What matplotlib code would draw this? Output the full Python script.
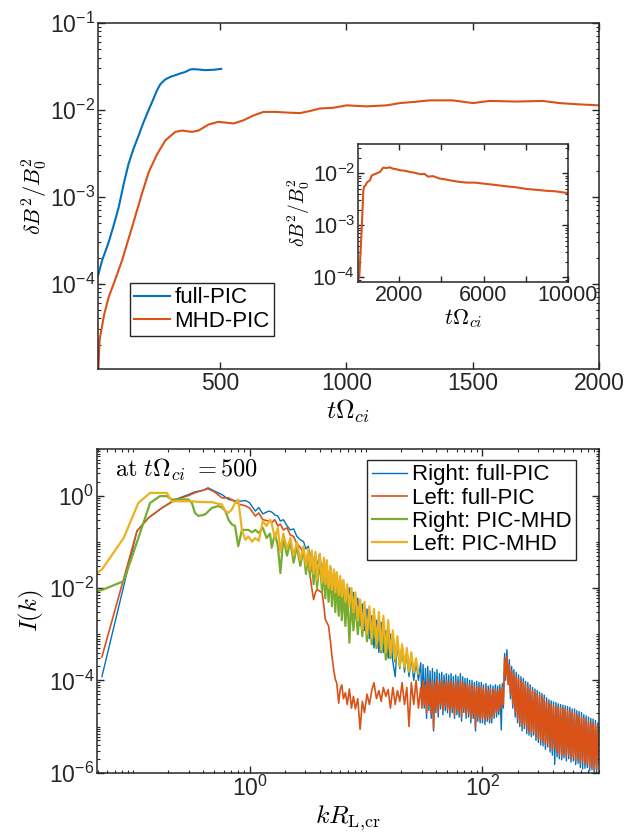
import numpy as np
import matplotlib.pyplot as plt
from matplotlib.ticker import FixedLocator, LogLocator, NullLocator, NullFormatter

plt.rcParams['font.family'] = ['Liberation Sans', 'DejaVu Sans']
plt.rcParams['mathtext.fontset'] = 'cm'

# MATLAB default colours
c_blue = '#0072BD'
c_orange = '#D95319'
c_yellow = '#EDB120'
c_green = '#77AC30'
c_axis = '#262626'

# ---- top panel: magnetic energy growth ----
t_full = [16, 32, 58, 78, 98, 118, 137, 157, 177, 197, 216, 236, 250, 263,
          282, 302, 322, 342, 362, 381, 394, 414, 441, 474, 504]
b_full = [1.24e-4, 1.85e-4, 3.0e-4, 4.7e-4, 7.6e-4, 1.42e-3, 2.4e-3, 3.6e-3,
          5.1e-3, 7.3e-3, 9.9e-3, 1.35e-2, 1.69e-2, 1.98e-2, 2.24e-2, 2.4e-2,
          2.51e-2, 2.63e-2, 2.74e-2, 2.92e-2, 2.95e-2, 2.92e-2, 2.87e-2,
          2.9e-2, 2.97e-2]

t_mhd = [16, 22, 26, 40, 58, 78, 111, 151, 190, 217, 250, 283, 322, 349, 388,
         414, 454, 493, 533, 553, 592, 630, 671, 720, 777, 816, 860, 895, 948,
         1001, 1080, 1159, 1212, 1270, 1330, 1421, 1501, 1567, 1673, 1778,
         1844, 1923, 2000]
b_mhd = [8e-6, 2.2e-5, 2.6e-5, 4.4e-5, 7.0e-5, 1.0e-4, 1.85e-4, 4.5e-4,
         1.09e-3, 1.93e-3, 3.1e-3, 4.47e-3, 5.6e-3, 5.8e-3, 5.6e-3, 5.8e-3,
         6.8e-3, 7.3e-3, 7.1e-3, 7.0e-3, 7.6e-3, 8.6e-3, 9.5e-3, 9.5e-3,
         9.3e-3, 9.2e-3, 9.8e-3, 1.04e-2, 1.06e-2, 1.13e-2, 1.1e-2, 1.13e-2,
         1.2e-2, 1.24e-2, 1.29e-2, 1.29e-2, 1.2e-2, 1.27e-2, 1.25e-2, 1.27e-2,
         1.2e-2, 1.16e-2, 1.13e-2]

# inset: long MHD-PIC run
t_long = [60, 108, 220, 300, 330, 400, 457, 520, 614, 694, 770, 900, 1087,
          1243, 1404, 1550, 1716, 1850, 2032, 2250, 2506, 2750, 2979, 3200,
          3370, 3600, 3925, 4200, 4500, 4871, 5200, 5600, 6020, 6500, 7080,
          7500, 8025, 8500, 8971, 9400, 9917, 10000]
b_long = [9e-5, 1.0e-4, 8e-4, 4.7e-3, 5.5e-3, 5.8e-3, 6.5e-3, 6.9e-3, 7.3e-3,
          9.0e-3, 9.4e-3, 9.8e-3, 1.06e-2, 1.28e-2, 1.26e-2, 1.3e-2, 1.22e-2,
          1.2e-2, 1.14e-2, 1.12e-2, 1.06e-2, 1.02e-2, 9.6e-3, 9.7e-3, 8.6e-3,
          8.8e-3, 7.9e-3, 7.6e-3, 7.2e-3, 6.8e-3, 6.6e-3, 6.6e-3, 6.3e-3,
          6.0e-3, 5.6e-3, 5.4e-3, 5.0e-3, 4.8e-3, 4.6e-3, 4.5e-3, 4.2e-3,
          4.2e-3]

# ---- bottom panel: spectra at t*Omega_ci = 500 ----
# low k, full-PIC grid
k_full_lo = [0.054, 0.108, 0.136, 0.177, 0.23, 0.30, 0.34, 0.40, 0.44, 0.50,
             0.58, 0.66, 0.74, 0.83, 0.92, 1.0, 1.12, 1.2, 1.3, 1.46]
right_full_lo = [1.2e-4, 0.17, 0.33, 0.54, 0.82, 1.05, 1.2, 1.3, 1.47, 1.25,
                 1.05, 0.82, 0.78, 0.75, 0.78, 0.7, 0.46, 0.55, 0.4, 0.46]
left_full_lo = [3.2e-4, 0.17, 0.33, 0.54, 0.8, 1.0, 1.15, 1.3, 1.4, 1.2,
                0.89, 0.89, 0.75, 0.64, 0.6, 0.54, 0.36, 0.42, 0.3, 0.28]

# low k, PIC-MHD grid
k_mhd_lo = [0.049, 0.054, 0.083, 0.111, 0.14, 0.17, 0.195, 0.215, 0.26, 0.30,
            0.32, 0.34, 0.365, 0.416, 0.475, 0.54, 0.58, 0.62, 0.66, 0.705,
            0.75, 0.80, 0.86, 0.92, 0.98, 1.05, 1.12, 1.2, 1.3, 1.4, 1.5]
right_mhd_lo = [0.0085, 0.009, 0.014, 0.12, 0.69, 0.97, 0.97, 0.82, 0.82, 0.82,
                0.69, 0.42, 0.36, 0.39, 0.54, 0.59, 0.55, 0.46, 0.30, 0.236,
                0.22, 0.08, 0.18, 0.18, 0.18, 0.16, 0.18, 0.155, 0.2, 0.12, 0.15]
left_mhd_lo = [0.021, 0.025, 0.12, 0.69, 1.14, 1.14, 1.14, 0.75, 0.75, 0.75,
               0.75, 0.74, 0.73, 0.72, 0.72, 0.66, 0.64, 0.46, 0.42, 0.5,
               0.69, 0.82, 0.18, 0.11, 0.13, 0.10, 0.12, 0.104, 0.28, 0.22, 0.3]

# intermediate k (noisy)
k_mid = [1.55, 1.65, 1.75, 1.84, 1.95, 2.1, 2.24, 2.39, 2.55, 2.73,
         2.91, 3.05, 3.2, 3.3, 3.42, 3.55, 3.68, 3.8, 4.0, 4.2,
         4.35, 4.47, 4.6, 4.77, 4.95, 5.1, 5.3, 5.45, 5.6, 5.83,
         6.0, 6.2, 6.4, 6.65, 6.9, 7.2, 7.5, 7.8, 8.1, 8.5,
         8.9, 9.3, 9.7, 10.2, 10.7, 11.2, 11.7, 12.3, 12.9, 13.5,
         14.1, 14.8, 15.5, 16.2, 17.0, 17.8, 18.6, 19.5, 20.4, 21.4,
         22.4, 23.4, 24.5, 25.7, 26.9, 28.2]
right_full_mid = [0.44, 0.38, 0.36, 0.28, 0.3, 0.22, 0.18, 0.19, 0.13, 0.11,
                  0.1, 0.07, 0.08, 0.05, 0.06, 0.035, 0.05, 0.03, 0.055, 0.02,
                  0.04, 0.015, 0.035, 0.012, 0.03, 0.0078, 0.025, 0.012, 0.02, 0.008,
                  0.017, 0.006, 0.014, 0.005, 0.004, 0.01, 0.0035, 0.008, 0.0025, 0.006,
                  0.0015, 0.0045, 0.0012, 0.0035, 8e-4, 0.0025, 5e-4, 0.002, 4e-4, 0.0018,
                  4e-4, 0.0012, 3e-4, 0.001, 2.5e-4, 1.2e-4, 7e-4, 1.8e-4, 6e-4, 1.5e-4,
                  4e-4, 1.2e-4, 3e-4, 1e-4, 2.5e-4, 1e-4]
left_full_mid = [0.26, 0.3, 0.22, 0.24, 0.18, 0.2, 0.14, 0.13, 0.09, 0.075,
                 0.057, 0.04, 0.029, 0.0195, 0.01, 0.0056, 0.008, 0.0093, 0.0085, 0.0078,
                 0.004, 0.0021, 0.0018, 0.0015, 7e-4, 3.3e-4, 1.6e-4, 1.05e-4, 8.9e-5, 3.2e-5,
                 6.3e-5, 8e-5, 4e-5, 5.4e-5, 3e-5, 6.5e-5, 2.5e-5, 4.5e-5, 2.4e-5, 4e-5,
                 8.7e-6, 3.5e-5, 2e-5, 5e-5, 3e-5, 6e-5, 8.9e-5, 4e-5, 6e-5, 3.5e-5,
                 7e-5, 4.5e-5, 6.3e-5, 2.5e-5, 7e-5, 3e-5, 6e-5, 3.5e-5, 8.9e-5, 3e-5,
                 7e-5, 1e-5, 8.9e-5, 3e-5, 1e-4, 2.5e-5]
right_mhd_mid = [0.074, 0.15, 0.08, 0.021, 0.12, 0.05, 0.1, 0.035, 0.08, 0.03,
                 0.07, 0.02, 0.06, 0.018, 0.05, 0.012, 0.045, 0.01, 0.04, 0.008,
                 0.035, 0.006, 0.03, 0.005, 0.025, 0.004, 0.02, 0.003, 0.015, 0.0025,
                 0.012, 0.002, 0.01, 0.0015, 0.008, 6.5e-4, 0.006, 0.0012, 0.005, 0.001,
                 0.004, 9e-4, 0.0035, 7e-4, 0.003, 6e-4, 0.0025, 5e-4, 0.002, 4e-4,
                 0.0015, 2.8e-4, 0.0012, 3e-4, 9e-4, 2.5e-4, 7e-4, 2e-4, 5e-4, 1.8e-4,
                 4e-4, 1.5e-4, 3e-4]
left_mhd_mid = [0.25, 0.12, 0.2, 0.06, 0.15, 0.07, 0.12, 0.05, 0.1, 0.04,
                0.08, 0.03, 0.07, 0.025, 0.065, 0.02, 0.06, 0.015, 0.055, 0.013,
                0.045, 0.012, 0.04, 0.01, 0.03, 0.009, 0.025, 0.008, 0.022, 0.007,
                0.018, 0.0065, 0.015, 0.005, 0.012, 0.004, 0.01, 0.003, 0.008, 0.002,
                0.0056, 0.0013, 0.005, 0.001, 0.004, 8e-4, 0.0035, 6e-4, 0.003, 4.6e-4,
                0.0025, 4e-4, 0.002, 3.5e-4, 0.0012, 3e-4, 9e-4, 2e-4, 6e-4, 2e-4,
                5e-4, 1.6e-4, 4e-4, 1.5e-4, 3e-4, 1.4e-4]

# high k (full-PIC only, very noisy)
k_hi = [29.5, 30.2, 30.9, 31.6, 32.4, 33.1, 33.9, 34.7, 35.5, 36.3,
        37.2, 38.0, 38.9, 39.8, 40.7, 41.7, 42.7, 43.7, 44.7, 45.7,
        46.8, 47.9, 49.0, 50.1, 51.3, 52.5, 53.7, 55.0, 56.2, 57.5,
        58.9, 60.3, 61.7, 63.1, 64.6, 66.1, 67.6, 69.2, 70.8, 72.4,
        74.1, 75.9, 77.6, 79.4, 81.3, 83.2, 85.1, 87.1, 89.1, 91.2,
        93.3, 95.5, 97.7, 100, 102, 105, 107, 110, 112, 115,
        117, 120, 123, 126, 129, 132, 135, 138, 141, 145,
        148, 151, 155, 158, 162, 166, 170, 174, 178, 182,
        186, 191, 195, 200, 204, 209, 214, 219, 224, 229,
        234, 240, 245, 251, 257, 263, 269, 275, 282, 288,
        295, 302, 309, 316, 324, 331, 339, 347, 355, 363,
        372, 380, 389, 398, 407, 417, 427, 437, 447, 457,
        468, 479, 490, 501, 513, 525, 537, 550, 562, 575,
        589, 603, 617, 631, 646, 661, 676, 692, 708, 724,
        741, 759, 776, 794, 813, 832, 851, 871, 891, 912,
        933, 955, 977, 1000]
right_full_hi = [2.4e-4, 3e-5, 2.2e-4, 2.5e-5, 1.8e-4, 1.5e-5, 2e-4, 2.2e-5, 1.6e-4, 1.5e-5,
                 1.8e-4, 8e-6, 1.5e-4, 2e-5, 1.7e-4, 1.6e-5, 1.4e-4, 2.4e-5, 1.5e-4, 1.8e-5,
                 1.3e-4, 2.2e-5, 1.4e-4, 2e-5, 1.3e-4, 1.6e-5, 1.4e-4, 2e-5, 1.2e-4, 1.5e-5,
                 1.3e-4, 1.8e-5, 1.2e-4, 1.6e-5, 1.4e-4, 1.3e-5, 1.2e-4, 2e-5, 1.1e-4, 1.5e-5,
                 1.1e-4, 1.6e-5, 1.0e-4, 1.2e-5, 1.0e-4, 1.5e-5, 9e-5, 8e-6, 9.5e-5, 1.3e-5,
                 9e-5, 1.2e-5, 9e-5, 1.2e-5, 8e-5, 1.1e-5, 8.5e-5, 1.3e-5, 7.5e-5, 1.2e-5,
                 8e-5, 1.2e-5, 7.5e-5, 1.5e-5, 8e-5, 1.6e-5, 7.5e-5, 1.8e-5, 8e-5, 8.4e-6,
                 8.5e-5, 2.5e-5, 3.8e-4, 1.0e-4, 4.6e-4, 9e-5, 2.8e-4, 4e-5, 2e-4, 2.5e-5,
                 1.7e-4, 1.6e-5, 1.5e-4, 1.2e-5, 1.3e-4, 1e-5, 1.2e-4, 8e-6, 1.1e-4, 9e-6,
                 9.5e-5, 7e-6, 9e-5, 6.5e-6, 8e-5, 6e-6, 7e-5, 6.5e-6, 6.5e-5, 5e-6,
                 6e-5, 4.5e-6, 5.5e-5, 4e-6, 5.2e-5, 3.8e-6, 4.8e-5, 3.2e-6, 4.2e-5, 3.6e-6,
                 3.8e-5, 2.8e-6, 3.6e-5, 2.4e-6, 3.4e-5, 1.5e-6, 3.3e-5, 2.2e-6, 3.1e-5, 2e-6,
                 3e-5, 1.9e-6, 2.9e-5, 2.1e-6, 2.8e-5, 1.8e-6, 2.7e-5, 2e-6, 2.6e-5, 1.7e-6,
                 2.4e-5, 1.8e-6, 2.4e-5, 1.5e-6, 2.2e-5, 1.6e-6, 2.1e-5, 1.3e-6, 2e-5, 1.2e-6,
                 1.8e-5, 1.25e-6, 1.7e-5, 1.3e-6, 1.6e-5, 1.1e-6, 1.5e-5, 1.15e-6, 1.45e-5, 1.0e-6,
                 1.35e-5, 1.0e-6, 1.2e-5, 1.5e-6]
left_full_hi = [7e-5, 2.5e-5, 1.0e-4, 3e-5, 8e-5, 2e-5, 1.1e-4, 2.8e-5, 9e-5, 1.8e-5,
                1.0e-4, 9e-6, 8e-5, 2.5e-5, 1.1e-4, 2e-5, 9e-5, 3e-5, 1.0e-4, 2.2e-5,
                8.5e-5, 2.8e-5, 1.0e-4, 2.4e-5, 9e-5, 2e-5, 1.0e-4, 2.5e-5, 8e-5, 1.8e-5,
                9.5e-5, 2.2e-5, 8.5e-5, 2e-5, 1.0e-4, 1.6e-5, 9e-5, 2.4e-5, 8e-5, 1.8e-5,
                8.5e-5, 2e-5, 7.5e-5, 1.5e-5, 8e-5, 1.8e-5, 7e-5, 1.0e-5, 7.5e-5, 1.6e-5,
                7e-5, 1.4e-5, 7.5e-5, 1.5e-5, 6.5e-5, 1.3e-5, 7e-5, 1.6e-5, 6e-5, 1.4e-5,
                6.5e-5, 1.5e-5, 6e-5, 1.8e-5, 6.5e-5, 2e-5, 6e-5, 2.2e-5, 6.5e-5, 2.5e-5,
                7e-5, 3e-5, 3.0e-4, 1.2e-4, 3.3e-4, 8e-5, 2.2e-4, 5e-5, 1.6e-4, 3e-5,
                1.4e-4, 2e-5, 1.2e-4, 1.5e-5, 1.1e-4, 1.2e-5, 1.0e-4, 1.0e-5, 9e-5, 1.1e-5,
                8e-5, 9e-6, 7.5e-5, 8e-6, 6.5e-5, 7e-6, 6e-5, 8e-6, 5.5e-5, 6e-6,
                5e-5, 5.5e-6, 4.8e-5, 5e-6, 4.5e-5, 4.6e-6, 4e-5, 4e-6, 3.5e-5, 4.5e-6,
                3.2e-5, 3.5e-6, 3e-5, 3e-6, 2.8e-5, 3.5e-6, 2.8e-5, 2.8e-6, 2.6e-5, 2.5e-6,
                2.6e-5, 2.3e-6, 2.4e-5, 2.6e-6, 2.4e-5, 2.2e-6, 2.2e-5, 2.5e-6, 2.2e-5, 2e-6,
                2e-5, 2.2e-6, 2e-5, 1.8e-6, 1.8e-5, 2e-6, 1.7e-5, 1.6e-6, 1.6e-5, 1.8e-6,
                1.5e-5, 1.5e-6, 1.4e-5, 1.6e-6, 1.3e-5, 1.3e-6, 1.2e-5, 1.4e-6, 1.2e-5, 1.1e-6,
                1.1e-5, 1.2e-6, 1.0e-5, 2e-6]


def style_axes(ax, size=16.5):
    ax.tick_params(which='both', direction='in', top=True, right=True,
                   labelsize=size, colors=c_axis, pad=2)
    ax.tick_params(which='major', length=5, width=1.0)
    ax.tick_params(which='minor', length=2.5, width=0.8)
    for s in ax.spines.values():
        s.set_linewidth(1.1)
        s.set_color(c_axis)


fig = plt.figure(figsize=(6.38, 8.4), dpi=100)

# top panel
ax1 = fig.add_axes([0.1536, 0.5607, 0.785, 0.4119])
ax1.semilogy(t_full, b_full, color=c_blue, lw=1.5, label='full-PIC')
ax1.semilogy(t_mhd, b_mhd, color=c_orange, lw=1.5, label='MHD-PIC')
ax1.set_xlim(16, 2000)
ax1.set_ylim(1.05e-5, 0.1)
ax1.xaxis.set_major_locator(FixedLocator([500, 1000, 1500, 2000]))
ax1.xaxis.set_minor_locator(NullLocator())
ax1.yaxis.set_major_locator(FixedLocator([1e-4, 1e-3, 1e-2, 1e-1]))
ax1.yaxis.set_minor_locator(LogLocator(base=10, subs=np.arange(2, 10), numticks=20))
ax1.yaxis.set_minor_formatter(NullFormatter())
style_axes(ax1)
ax1.set_xlabel(r'$t\Omega_{ci}$', fontsize=18.5, labelpad=2)
ax1.set_ylabel(r'$\delta B^2/B_0^2$', fontsize=16, labelpad=0)
leg1 = ax1.legend(loc='upper left', bbox_to_anchor=(0.064, 0.249), fontsize=16,
                  fancybox=False, edgecolor=c_axis, framealpha=1,
                  handlelength=1.6, borderaxespad=0, borderpad=0.2,
                  labelspacing=0.1, handletextpad=0.2)
leg1.get_frame().set_linewidth(1.0)

# inset
ax_in = fig.add_axes([0.5611, 0.6646, 0.329, 0.1636])
ax_in.semilogy(t_long, b_long, color=c_orange, lw=1.5)
ax_in.set_xlim(46, 10000)
ax_in.set_ylim(8.2e-5, 3.6e-2)
ax_in.xaxis.set_major_locator(FixedLocator([2000, 4000, 6000, 8000, 10000]))
ax_in.set_xticklabels(['2000', '', '6000', '', '10000'])
ax_in.xaxis.set_minor_locator(NullLocator())
ax_in.yaxis.set_major_locator(FixedLocator([1e-4, 1e-3, 1e-2]))
ax_in.yaxis.set_minor_locator(LogLocator(base=10, subs=np.arange(2, 10), numticks=20))
ax_in.yaxis.set_minor_formatter(NullFormatter())
style_axes(ax_in, size=15.5)
ax_in.tick_params(which='major', length=4)
ax_in.tick_params(which='minor', length=2)
ax_in.set_xlabel(r'$t\Omega_{ci}$', fontsize=16, labelpad=1)
ax_in.set_ylabel(r'$\delta B^2/B_0^2$', fontsize=14, labelpad=0)

# bottom panel
ax2 = fig.add_axes([0.152, 0.0801, 0.7868, 0.385])
k_full = k_full_lo + k_mid + k_hi
ax2.loglog(k_full, right_full_lo + right_full_mid + right_full_hi,
           color=c_blue, lw=1.0, label='Right: full-PIC')
ax2.loglog(k_full, left_full_lo + left_full_mid + left_full_hi,
           color=c_orange, lw=1.2, label='Left: full-PIC')
ax2.loglog(k_mhd_lo + k_mid[:len(right_mhd_mid)], right_mhd_lo + right_mhd_mid,
           color=c_green, lw=1.6, label='Right: PIC-MHD')
ax2.loglog(k_mhd_lo + k_mid, left_mhd_lo + left_mhd_mid,
           color=c_yellow, lw=1.6, label='Left: PIC-MHD')
ax2.set_xlim(0.049, 1000)
ax2.set_ylim(1e-6, 10)
ax2.xaxis.set_major_locator(FixedLocator([1, 100]))
ax2.xaxis.set_minor_locator(LogLocator(base=10, subs=np.arange(1, 10), numticks=20))
ax2.xaxis.set_minor_formatter(NullFormatter())
ax2.yaxis.set_major_locator(FixedLocator([1e-6, 1e-4, 1e-2, 1]))
ax2.yaxis.set_minor_locator(LogLocator(base=10, subs=np.arange(1, 10), numticks=20))
ax2.yaxis.set_minor_formatter(NullFormatter())
style_axes(ax2)
ax2.set_xlabel(r'$kR_{\mathrm{L{,}cr}}$', fontsize=18.5, labelpad=2)
ax2.set_ylabel(r'$I(k)$', fontsize=18, labelpad=2)
ax2.text(0.036, 0.978, r'$\mathrm{at}\ t\Omega_{ci}\ {=}500$', transform=ax2.transAxes,
         fontsize=17.5, va='top', ha='left')
leg2 = ax2.legend(loc='upper right', bbox_to_anchor=(0.954, 0.967), fontsize=16,
                  fancybox=False, edgecolor=c_axis, framealpha=1,
                  handlelength=1.6, borderaxespad=0, borderpad=0.2,
                  labelspacing=0.1, handletextpad=0.2)
leg2.get_frame().set_linewidth(1.0)

fig.savefig('out.png', dpi=100)
